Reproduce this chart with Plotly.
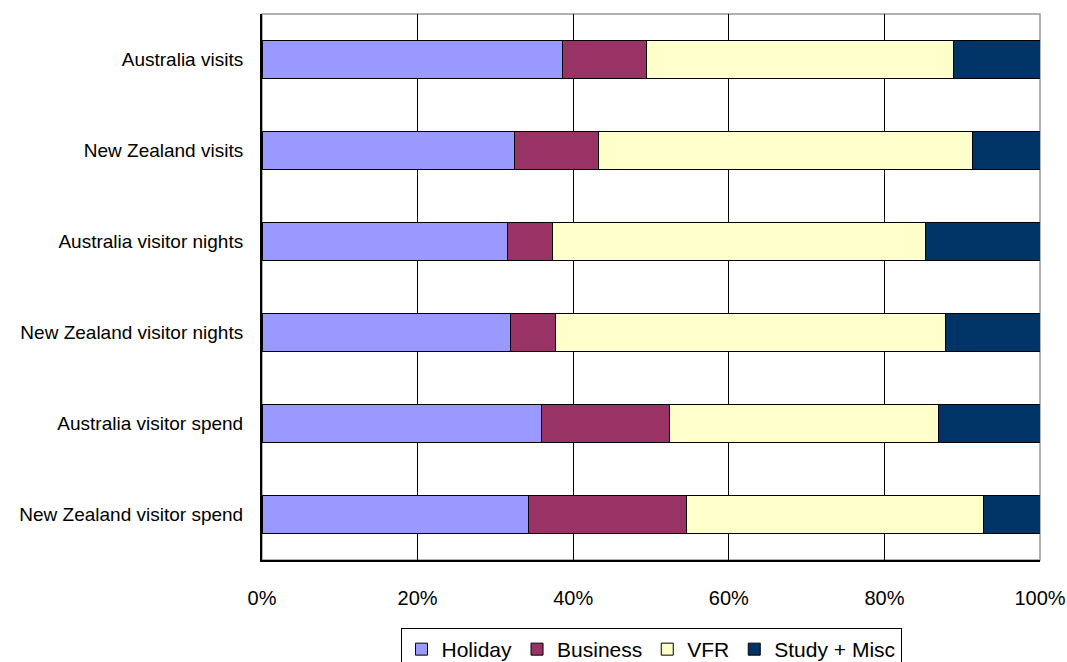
import plotly.graph_objects as go

categories = ["Australia visits", "New Zealand visits", "Australia visitor nights",
              "New Zealand visitor nights", "Australia visitor spend", "New Zealand visitor spend"]
holiday = [38.6, 32.4, 31.5, 31.9, 35.9, 34.3]
business = [10.8, 10.9, 5.9, 5.8, 16.5, 20.3]
vfr = [39.5, 48.0, 47.9, 50.1, 34.5, 38.1]
study_misc = [11.1, 8.7, 14.7, 12.2, 13.1, 7.3]

series = [("Holiday", holiday, "#9999FF"), ("Business", business, "#993366"),
          ("VFR", vfr, "#FFFFCC"), ("Study + Misc", study_misc, "#003366")]

font_family = "Liberation Sans Narrow, Arial Narrow, Liberation Sans, Arial, sans-serif"

fig = go.Figure()
for name, vals, color in series:
    fig.add_trace(go.Bar(
        y=categories, x=[v / 100 for v in vals], name=name, orientation="h",
        marker=dict(color=color, line=dict(color="#000000", width=1)),
        width=0.41,
    ))

fig.update_layout(
    barmode="stack",
    width=1067, height=662,
    margin=dict(l=262, r=27, t=14, b=102, autoexpand=False),
    paper_bgcolor="white", plot_bgcolor="white",
    font=dict(family=font_family, size=19, color="#000000"),
    showlegend=True,
    legend=dict(orientation="h", x=0.5, xanchor="center", xref="paper",
                y=(662 - 628) / 662, yanchor="top", yref="container",
                bordercolor="#000000", borderwidth=1, font=dict(size=21),
                itemwidth=30, tracegroupgap=0, traceorder="normal"),
    shapes=[dict(type="rect", xref="paper", yref="paper", x0=0, x1=1, y0=0, y1=1,
                 line=dict(color="#999999", width=1.5), layer="below")],
)
fig.update_xaxes(range=[0, 1], tickformat=".0%", dtick=0.2, showgrid=True,
                 gridcolor="#000000", gridwidth=1, showline=True, linecolor="#000000",
                 linewidth=2, ticks="", ticklabelstandoff=19, zeroline=False,
                 automargin=False, tickfont=dict(size=20))
fig.update_yaxes(autorange="reversed", showline=True, linecolor="#000000", linewidth=2,
                 ticks="", ticklabelstandoff=13, showgrid=False, automargin=False,
                 tickfont=dict(size=19))

fig.write_html("out.html")
